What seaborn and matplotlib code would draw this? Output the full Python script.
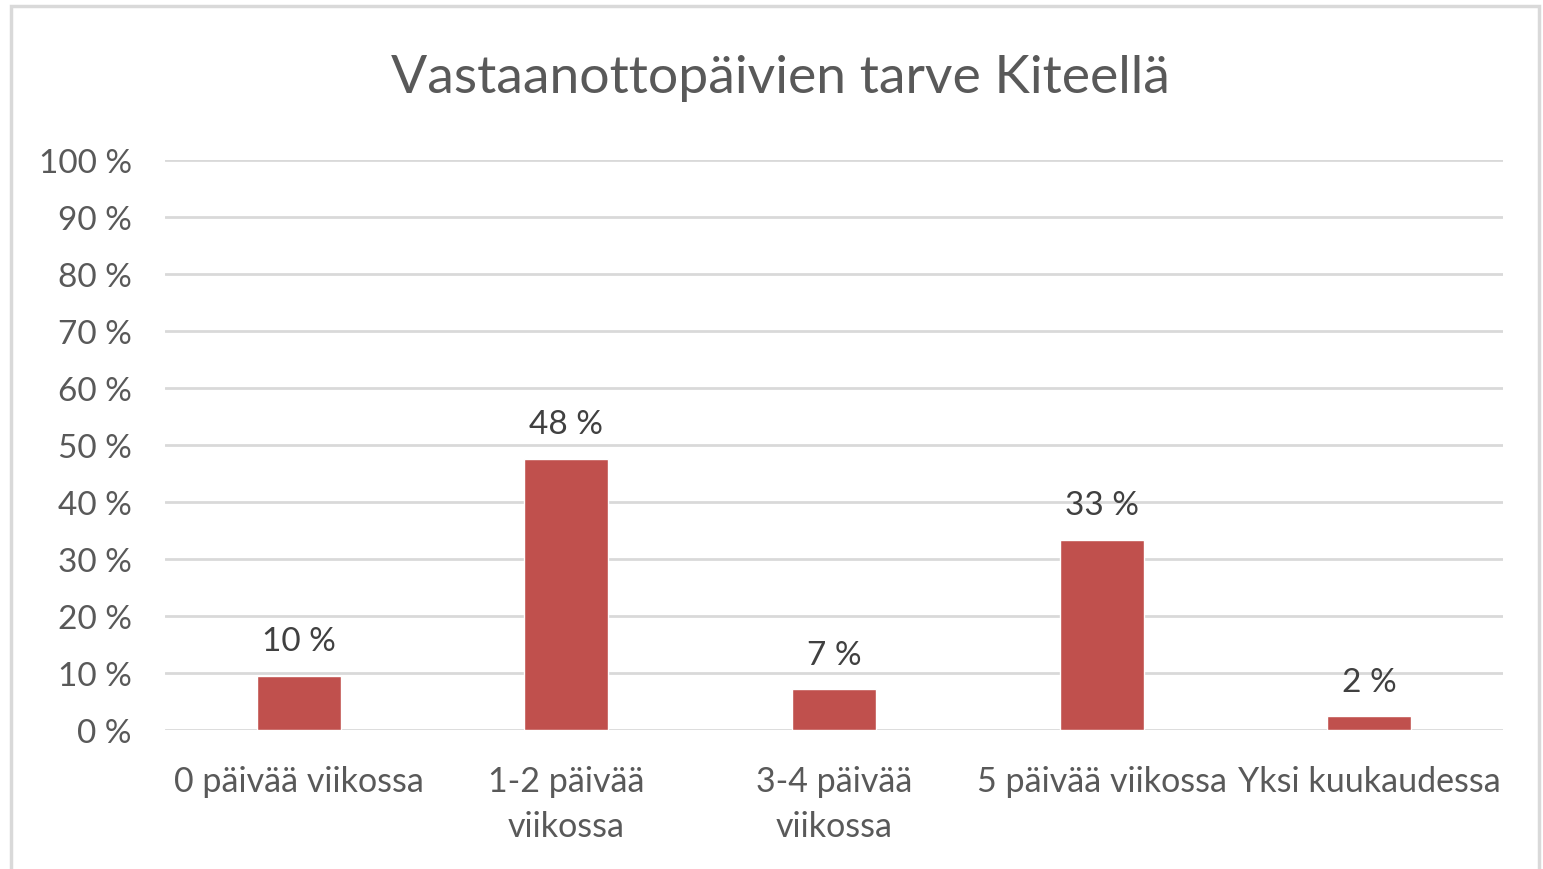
import matplotlib
matplotlib.use("Agg")
import matplotlib.pyplot as plt
import seaborn as sns
import pandas as pd
from matplotlib.patches import Rectangle

# --- data ---
categories = ["0 päivää viikossa", "1-2 päivää\nviikossa", "3-4 päivää\nviikossa",
              "5 päivää viikossa", "Yksi kuukaudessa"]
shares = [9.52, 47.62, 7.14, 33.33, 2.38]
y_ticks = [0, 10, 20, 30, 40, 50, 60, 70, 80, 90, 100]
title = "Vastaanottopäivien tarve Kiteellä"

df = pd.DataFrame({"Kategoria": categories, "Osuus": shares})

sns.set_theme(style="white")
plt.rcParams["font.family"] = ["Lato", "DejaVu Sans"]

text_gray = "#595959"
grid_gray = "#D9D9D9"
bar_red = "#C0504D"

fig = plt.figure(figsize=(15.43, 8.70), dpi=100)
ax = fig.add_axes([165 / 1543, 1 - 731 / 870, (1503 - 165) / 1543, (731 - 161) / 870])

sns.barplot(data=df, x="Kategoria", y="Osuus", color=bar_red, width=0.314,
            saturation=1, ax=ax, zorder=3)

ax.set_ylim(0, 100)
ax.set_xlim(-0.5, len(categories) - 0.5)
ax.set_yticks(y_ticks)
ax.set_yticklabels([f"{t} %" for t in y_ticks], fontsize=24, color=text_gray)
ax.tick_params(axis="x", labelsize=24.5, labelcolor=text_gray, pad=25, length=0)
ax.tick_params(axis="y", pad=24, length=0)
for lbl in ax.get_xticklabels():
    lbl.set_linespacing(1.5)
ax.set_xlabel("")
ax.set_ylabel("")
for s in ax.spines.values():
    s.set_visible(False)
ax.yaxis.grid(True, color=grid_gray, linewidth=2, zorder=0)
ax.set_axisbelow(True)

for p, v in zip(ax.patches, shares):
    ax.annotate(f"{v:.0f} %", (p.get_x() + p.get_width() / 2, p.get_height()),
                ha="center", va="center", xytext=(0, 25), textcoords="offset points",
                fontsize=24, color="#404040")

fig.text(780 / 1543, 1 - 78 / 870, title, ha="center", va="center",
         fontsize=38.5, color=text_gray)

# outer chart frame
fig.add_artist(Rectangle((11 / 1543, -0.05), (1539 - 11) / 1543, 1 - 7 / 870 + 0.05,
                         transform=fig.transFigure, fill=False,
                         edgecolor="#D9D9D9", linewidth=2.5))

fig.savefig("out.png", dpi=100, facecolor="white")
